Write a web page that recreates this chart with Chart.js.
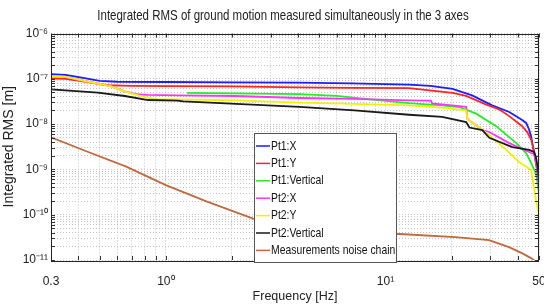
<!DOCTYPE html>
<html>
<head>
<meta charset="utf-8">
<script src="https://cdn.jsdelivr.net/npm/chart.js@4.4.1/dist/chart.umd.min.js"></script>
<style>
  html, body { margin: 0; padding: 0; background: #fff; }
  #wrap { width: 544px; height: 304px; }
</style>
</head>
<body>
<div id="wrap"><canvas id="rmsChart" width="544" height="304"></canvas></div>
<script>
// series labels / colours
const seriesLabels = ['Pt1:X', 'Pt1:Y', 'Pt1:Vertical', 'Pt2:X', 'Pt2:Y', 'Pt2:Vertical', 'Measurements noise chain'];
const seriesColors = ['#1c1cff', '#ff2424', '#22ee22', '#ff33ff', '#f2f200', '#1a1a1a', '#c0693e'];
const chartTitle = 'Integrated RMS of ground motion measured simultaneously in the 3 axes';

// Pt1:X
const pt1xF = [0.3, 0.35, 0.42, 0.5, 0.6, 1.0, 2.0, 4.0, 7.0, 10, 12.8, 16, 20.2, 24.8, 30.6, 36.6, 41.9, 43.7, 45.1, 46.1, 46.6, 47.5, 48.5, 49.5, 50];
const pt1xV = [1.27e-7, 1.22e-7, 1.05e-7, 9.0e-8, 8.6e-8, 8.5e-8, 8.3e-8, 8.2e-8, 7.9e-8, 7.6e-8, 7.4e-8, 7.0e-8, 6.0e-8, 4.3e-8, 2.6e-8, 1.85e-8, 1.23e-8, 1.06e-8, 7.5e-9, 5.2e-9, 3.8e-9, 2.3e-9, 1.4e-9, 9e-10, 7e-10];

// Pt1:Y
const pt1yF = [0.3, 0.35, 0.42, 0.5, 0.55, 0.7, 1.0, 2.0, 4.0, 7.0, 12.8, 20.2, 23.3, 28.8, 33, 36.6, 41.9, 44.2, 46.1, 47.5, 48.5, 49.5, 50];
const pt1yV = [1.02e-7, 1.0e-7, 8.8e-8, 7.6e-8, 7.2e-8, 7.0e-8, 6.9e-8, 6.8e-8, 6.5e-8, 6.3e-8, 6.2e-8, 4.9e-8, 4.2e-8, 2.7e-8, 2.1e-8, 1.5e-8, 9.0e-9, 6.7e-9, 4.5e-9, 2.5e-9, 1.3e-9, 7e-10, 5e-10];

// Pt1:Vertical
const pt1zF = [1.25, 2.06, 4.06, 6.0, 8.5, 12.8, 18, 21.7, 25.9, 31.9, 39.4, 43.7, 46.1, 48.5, 50];
const pt1zV = [4.9e-8, 4.75e-8, 4.6e-8, 4.2e-8, 3.5e-8, 2.9e-8, 2.6e-8, 2.38e-8, 1.7e-8, 9.0e-9, 3.8e-9, 2.3e-9, 1.38e-9, 8e-10, 3e-10];

// Pt2:X
const pt2xF = [0.3, 0.35, 0.45, 0.56, 0.65, 0.75, 0.83, 1.13, 2.06, 4.06, 7.23, 12.8, 16.1, 16.3, 23.3, 23.6, 24.1, 27.6, 29.7, 36.6, 46.1, 47.5, 48.5, 50];
const pt2xV = [1.15e-7, 1.1e-7, 8.5e-8, 6.9e-8, 5.3e-8, 4.5e-8, 4.4e-8, 4.3e-8, 4.17e-8, 3.77e-8, 3.6e-8, 3.35e-8, 3.3e-8, 2.85e-8, 2.4e-8, 1.3e-8, 1.2e-8, 7.4e-9, 6.7e-9, 3.8e-9, 2.3e-9, 2.2e-9, 1.5e-9, 4e-10];

// Pt2:Y
const pt2yF = [0.3, 0.35, 0.45, 0.56, 0.65, 0.75, 0.83, 0.92, 1.13, 1.5, 2.06, 4.06, 7.23, 12.8, 18, 23.3, 23.6, 24.1, 29.7, 35.5, 40.6, 46.1, 48.5, 50];
const pt2yV = [1.15e-7, 1.1e-7, 8.5e-8, 6.9e-8, 5.3e-8, 4.3e-8, 3.8e-8, 3.53e-8, 3.5e-8, 3.45e-8, 3.35e-8, 2.97e-8, 2.8e-8, 2.6e-8, 2.3e-8, 2.02e-8, 1.3e-8, 1.2e-8, 5.7e-9, 2.7e-9, 1.46e-9, 9.7e-10, 2e-10, 1e-10];

// Pt2:Vertical
const pt2zF = [0.3, 0.49, 0.65, 0.83, 1.13, 1.2, 4.06, 7.23, 12.8, 18.1, 23.3, 24.1, 27.6, 29.7, 37.8, 45.1, 47.5, 48.5, 49.5, 50];
const pt2zV = [5.86e-8, 4.93e-8, 4.17e-8, 3.4e-8, 3.3e-8, 3.19e-8, 2.4e-8, 2.0e-8, 1.61e-8, 1.44e-8, 1.11e-8, 8.4e-9, 7.4e-9, 5.0e-9, 3.1e-9, 2.7e-9, 2.42e-9, 1.8e-9, 1.0e-9, 6e-10];

// Measurements noise chain
const noiseF = [0.3, 0.42, 0.66, 1.0, 1.54, 2.48, 3.5, 5.0, 8.0, 11.6, 20.8, 29.6, 36.5, 41.8, 46, 48.6, 49.5];
const noiseV = [5.1e-9, 2.68e-9, 1.15e-9, 4.5e-10, 1.94e-10, 8.3e-11, 5.6e-11, 4.6e-11, 4.0e-11, 3.75e-11, 3.2e-11, 2.75e-11, 1.93e-11, 1.42e-11, 1.1e-11, 9e-12, 7e-12];

// grid / tick positions and labels
const xGridVals = [0.3, 0.4, 0.5, 0.6, 0.7, 0.8, 0.9, 1, 2, 3, 4, 5, 6, 7, 8, 9, 10, 20, 30, 40, 50];
const xLabelVals = [0.3, 1, 10, 50];
const xLabelText = ['0.3', '10\u2070', '10\u00b9', '50'];
const yDecades = [-11, -10, -9, -8, -7, -6];
const yLabelText = ['10\u207b\u00b9\u00b9', '10\u207b\u00b9\u2070', '10\u207b\u2079', '10\u207b\u2078', '10\u207b\u2077', '10\u207b\u2076'];

const seriesF = [pt1xF, pt1yF, pt1zF, pt2xF, pt2yF, pt2zF, noiseF];
const seriesV = [pt1xV, pt1yV, pt1zV, pt2xV, pt2yV, pt2zV, noiseV];

const yGridVals = [];
yDecades.forEach(e => {
  const top = e === -6 ? 1 : 9;
  for (let m = 1; m <= top; m++) yGridVals.push(m * Math.pow(10, e));
});

const sans = "'Liberation Sans', Arial, sans-serif";

function findLabel(v, vals, texts) {
  for (let i = 0; i < vals.length; i++) {
    if (Math.abs(v - vals[i]) / vals[i] < 1e-6) return texts[i];
  }
  return '';
}

// text squeezed horizontally, like the resized MATLAB figure
function narrowText(ctx, text, x, y, sx, align) {
  ctx.save();
  ctx.translate(x, y);
  ctx.scale(sx, 1);
  ctx.textAlign = align;
  ctx.fillText(text, 0, 0);
  ctx.restore();
}

// inside tick marks, axes box, title and legend (MATLAB look)
const matlabAxes = {
  id: 'matlabAxes',
  afterDatasetsDraw(chart) {
    const {ctx, chartArea: a, scales: {x, y}} = chart;
    ctx.save();
    ctx.strokeStyle = '#333';
    ctx.lineWidth = 1;
    ctx.beginPath();
    xGridVals.forEach(v => {
      const px = Math.round(x.getPixelForValue(v)) + 0.5;
      ctx.moveTo(px, a.bottom); ctx.lineTo(px, a.bottom - 4);
      ctx.moveTo(px, a.top); ctx.lineTo(px, a.top + 4);
    });
    yGridVals.forEach(v => {
      const py = Math.round(y.getPixelForValue(v)) + 0.5;
      ctx.moveTo(a.left, py); ctx.lineTo(a.left + 4, py);
      ctx.moveTo(a.right, py); ctx.lineTo(a.right - 4, py);
    });
    ctx.stroke();
    ctx.strokeStyle = '#222';
    ctx.strokeRect(Math.round(a.left) + 0.5, Math.round(a.top) + 0.5,
      Math.round(a.right - a.left) - 1, Math.round(a.bottom - a.top));

    // title
    ctx.fillStyle = '#222';
    ctx.font = '14px ' + sans;
    ctx.textBaseline = 'alphabetic';
    narrowText(ctx, chartTitle, 283, 19.5, 0.82, 'center');

    // legend box
    const lx = 254.5, ly = 133.5, lw = 142, lh = 129;
    ctx.fillStyle = '#fff';
    ctx.fillRect(lx, ly, lw, lh);
    ctx.strokeStyle = '#555';
    ctx.strokeRect(lx, ly, lw, lh);
    ctx.font = '13px ' + sans;
    ctx.textBaseline = 'middle';
    chart.data.datasets.forEach((ds, i) => {
      const cy = 146 + i * 17.4;
      ctx.strokeStyle = ds.borderColor;
      ctx.lineWidth = 1.5;
      ctx.beginPath();
      ctx.moveTo(256, cy); ctx.lineTo(270, cy);
      ctx.stroke();
      ctx.fillStyle = '#111';
      narrowText(ctx, ds.label, 271, cy, 0.8, 'left');
    });
    ctx.restore();
  }
};

new Chart(document.getElementById('rmsChart'), {
  type: 'line',
  data: {
    datasets: seriesLabels.map((label, i) => ({
      label: label,
      data: seriesF[i].map((f, k) => ({x: f, y: seriesV[i][k]})),
      borderColor: seriesColors[i],
      backgroundColor: seriesColors[i],
      borderWidth: 1.8,
      pointRadius: 0,
      tension: 0,
      order: seriesLabels.length - i
    }))
  },
  options: {
    responsive: false,
    animation: false,
    layout: { padding: { left: 0, right: 5, top: 33.5, bottom: 0 } },
    plugins: {
      legend: { display: false },
      tooltip: { enabled: false },
      title: { display: false }
    },
    scales: {
      x: {
        type: 'logarithmic',
        min: 0.3,
        max: 50,
        afterBuildTicks: s => { s.ticks = xGridVals.map(v => ({value: v})); },
        afterFit: s => { s.height = 44; s.paddingLeft = 0; s.paddingRight = 0; },
        ticks: {
          autoSkip: false,
          maxRotation: 0,
          padding: 14.5,
          color: '#222',
          font: { family: sans, size: 12 },
          callback: v => findLabel(v, xLabelVals, xLabelText)
        },
        grid: { color: '#c4c4c4', drawTicks: false, lineWidth: 1 },
        border: { display: false, dash: [1, 2] },
        title: {
          display: true,
          text: 'Frequency [Hz]',
          color: '#222',
          font: { family: sans, size: 12.5 },
          padding: { top: 0, bottom: 0 }
        }
      },
      y: {
        type: 'logarithmic',
        min: 1e-11,
        max: 1e-6,
        afterBuildTicks: s => { s.ticks = yGridVals.map(v => ({value: v})); },
        afterFit: s => { s.width = 51; s.paddingTop = 0; s.paddingBottom = 0; },
        ticks: {
          autoSkip: false,
          padding: 3,
          color: '#222',
          font: { family: sans, size: 12 },
          callback: v => findLabel(v, yDecades.map(e => Math.pow(10, e)), yLabelText)
        },
        grid: { color: '#c4c4c4', drawTicks: false, lineWidth: 1 },
        border: { display: false, dash: [1, 2] },
        title: {
          display: true,
          text: 'Integrated RMS [m]',
          color: '#222',
          font: { family: sans, size: 14 },
          padding: { top: 1, bottom: 0 }
        }
      }
    }
  },
  plugins: [matlabAxes]
});
</script>
</body>
</html>
